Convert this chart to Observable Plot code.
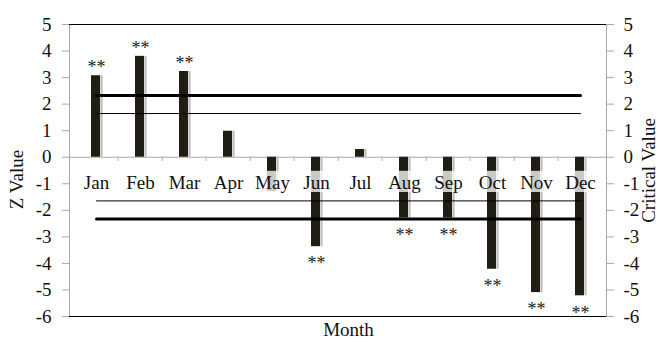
<!DOCTYPE html>
<html>
<head>
<meta charset="utf-8">
<script src="https://cdn.jsdelivr.net/npm/d3@7"></script>
<script src="https://cdn.jsdelivr.net/npm/@observablehq/plot@0.6"></script>
<style>
  html, body { margin: 0; padding: 0; background: #fff; }
  #chart svg { display: block; }
  #chart svg, #chart svg text { font-family: "Liberation Serif", "Times New Roman", serif !important; }
</style>
</head>
<body>
<div id="chart"></div>
<script>
const months = ["Jan","Feb","Mar","Apr","May","Jun","Jul","Aug","Sep","Oct","Nov","Dec"];
const zValues = [3.07, 3.8, 3.23, 0.98, -1.3, -3.37, 0.29, -2.29, -2.29, -4.22, -5.1, -5.22];
const significance = ["**","**","**","","","**","","**","**","**","**","**"];
const criticalValues = [1.645, 2.326, -1.645, -2.326];
const criticalWeights = [1, 3, 1, 3];
const yTicks = [-6,-5,-4,-3,-2,-1,0,1,2,3,4,5];

const data = months.map((m, i) => ({month: m, z: zValues[i], sig: significance[i]}));
const critLines = criticalValues.flatMap((v, i) => [
  {month: months[0], v, k: i, w: criticalWeights[i]},
  {month: months[months.length - 1], v, k: i, w: criticalWeights[i]}
]);

const dark = "#1f1d14";
const shadow = "#b9b8b2";
const axisGray = "#a8a8a8";
const fmt = d => String(d);
const fs = 19;

const chart = Plot.plot({
  width: 659,
  height: 338,
  marginLeft: 69,
  marginRight: 53,
  marginTop: 24,
  marginBottom: 22,
  style: {fontFamily: "'Liberation Serif', serif", fontSize: fs + "px", background: "#fff", color: "#111"},
  x: {type: "band", domain: months, padding: 0, axis: null},
  y: {domain: [-6, 5]},
  marks: [
    Plot.frame({stroke: axisGray}),
    Plot.ruleY([0], {stroke: axisGray}),
    Plot.ruleX(months.slice(1), {x: d => d, y1: 0, y2: -0.16, dx: -22.4, stroke: axisGray}),
    Plot.barY(data, {x: "month", y: "z", fill: shadow, insetLeft: 26.5, insetRight: 15.5}),
    Plot.barY(data, {x: "month", y: "z", fill: dark, insetLeft: 17, insetRight: 18}),
    Plot.barY(months, {x: d => d, y1: -0.53, y2: -1.33, fill: "white", fillOpacity: 0.76}),
    Plot.text(months, {x: d => d, y: 0, dy: 25.5, text: d => d, fontSize: fs, fill: "#111"}),
    Plot.line(critLines, {x: "month", y: "v", z: "k", stroke: "#000", strokeWidth: "w"}),
    Plot.ruleY([5, -6], {stroke: "#000"}),
    Plot.text(data.filter(d => d.sig && d.z > 0), {x: "month", y: "z", text: "sig", dy: -8, fontSize: 18, fill: "#222"}),
    Plot.text(data.filter(d => d.sig && d.z < 0), {x: "month", y: "z", text: "sig", dy: 17, fontSize: 18, fill: "#222"}),
    Plot.axisY(yTicks, {anchor: "left", tickSize: 7, tickPadding: 11, tickFormat: fmt, stroke: axisGray, fill: "#111", fontSize: fs, label: null}),
    Plot.axisY(yTicks, {anchor: "right", tickSize: 7, tickPadding: 10, tickFormat: fmt, stroke: axisGray, fill: "#111", fontSize: fs, label: null}),
    Plot.text(["Z Value"], {frameAnchor: "left", textAnchor: "middle", lineAnchor: "middle", text: d => d, rotate: -90, dx: -53, dy: 9, fontSize: fs, fill: "#111"}),
    Plot.text(["Critical Value"], {frameAnchor: "right", textAnchor: "middle", lineAnchor: "middle", text: d => d, rotate: -90, dx: 42, dy: 0, fontSize: fs, fill: "#111"}),
    Plot.text(["Month"], {frameAnchor: "bottom", textAnchor: "middle", lineAnchor: "bottom", text: d => d, dx: 10.5, dy: 19, fontSize: fs, fill: "#111"})
  ]
});
document.getElementById("chart").appendChild(chart);
</script>
</body>
</html>
